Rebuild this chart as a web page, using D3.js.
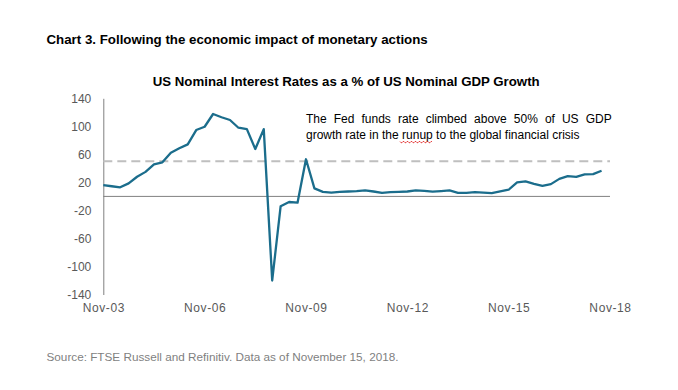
<!DOCTYPE html>
<html><head><meta charset="utf-8">
<script src="https://cdn.jsdelivr.net/npm/d3@7"></script>
<style>
html,body{margin:0;padding:0;background:#fff;}
svg{display:block;font-family:"Liberation Sans",Arial,sans-serif;}
</style></head>
<body><svg id="c" width="678" height="390"></svg>
<script>
// quarterly observations, Nov-03 onward
const values = [16,14.5,13,18.6,28,35,45.7,48.6,62.3,68.6,74.3,94.7,99.4,117.6,113,109,98,96,67.6,96,
 -120,-14,-8,-9,53,11.4,6.5,5.5,6.5,7,7.5,8.5,7,5,6,6.5,7,8.5,8,6.7,7.5,8.5,5,5,6,5.5,4.7,7,9.5,20,
 21.4,18,15,17.5,25,29,28,31.5,31.8,36.6];
const xTickLabels = ["Nov-03","Nov-06","Nov-09","Nov-12","Nov-15","Nov-18"];
const xTickIndex = [0,12,24,36,48,60];
const yTicks = [140,100,60,20,-20,-60,-100,-140];
const threshold = [50];
const title = "Chart 3. Following the economic impact of monetary actions";
const chartTitle = "US Nominal Interest Rates as a % of US Nominal GDP Growth";
const note1 = "The Fed funds rate climbed above 50% of US GDP";
const note2 = "growth rate in the runup to the global financial crisis";
const source = "Source: FTSE Russell and Refinitiv. Data as of November 15, 2018.";

const svg = d3.select("#c");
const x = d3.scaleLinear().domain([0,60]).range([103.3,610]);
const y = d3.scaleLinear().domain([-140,140]).range([294.5,98.3]);

function fit(sel, w){ const n = sel.node().getComputedTextLength(); if (Math.abs(n-w)>1) sel.attr("textLength",w).attr("lengthAdjust","spacingAndGlyphs"); return sel; }

fit(svg.append("text").attr("x",46.5).attr("y",44.3).attr("font-size",13.3).attr("font-weight","bold")
  .attr("fill","#000").text(title), 381);
fit(svg.append("text").attr("x",152.7).attr("y",86).attr("font-size",13.3)
  .attr("font-weight","bold").attr("fill","#000").text(chartTitle), 387);

// y axis line
const yAxis = d3.axisLeft(y).tickValues(yTicks).tickSize(0).tickPadding(12).tickFormat(d=>String(d));
const gy = svg.append("g").attr("transform","translate(103.3,0)").call(yAxis);
gy.select(".domain").attr("stroke","#808080").attr("stroke-width",1);
gy.selectAll("text").attr("font-size",12).attr("fill","#595959")
  .attr("font-family","Liberation Sans, Arial, sans-serif");

// zero line
svg.append("line").attr("x1",x(0)).attr("x2",x(60)).attr("y1",y(0)).attr("y2",y(0))
  .attr("stroke","#808080").attr("stroke-width",1);

// x tick labels
const xAxis = d3.axisBottom(x).tickValues(xTickIndex).tickSize(0).tickPadding(0)
  .tickFormat((d,i)=>xTickLabels[i]);
const gx = svg.append("g").attr("transform","translate(0,303.5)").call(xAxis);
gx.select(".domain").remove();
gx.selectAll("text").attr("font-size",12).attr("fill","#595959").attr("letter-spacing",0.6)
  .attr("font-family","Liberation Sans, Arial, sans-serif");

// dashed 50 line
svg.selectAll(".thr").data(threshold).enter().append("line")
  .attr("x1",x(0)).attr("x2",x(60)).attr("y1",d=>y(d)).attr("y2",d=>y(d))
  .attr("stroke","#bfbfbf").attr("stroke-width",2).attr("stroke-dasharray","9,5");

// series
const line = d3.line().x((d,i)=>x(i)).y(d=>y(d));
svg.append("path").datum(values).attr("d",line).attr("fill","none")
  .attr("stroke","#1b6d8c").attr("stroke-width",2.3).attr("stroke-linejoin","round");

// annotation, line 1 justified
const words = note1.split(" ");
const g1 = svg.append("g");
const left = 306, right = 611.7;
const ws = words.map(w => g1.append("text").attr("y",122.7).attr("font-size",12).attr("fill","#000").text(w));
const widths = ws.map(t => t.node().getComputedTextLength());
const gap = (right-left - d3.sum(widths))/(words.length-1);
let cx = left;
ws.forEach((t,i)=>{ t.attr("x",cx); cx += widths[i]+gap; });

const t2 = svg.append("text").attr("x",left).attr("y",139.3).attr("font-size",12).attr("fill","#000").text(note2);
const w2 = t2.node().getComputedTextLength();
if (w2 > 276) t2.attr("textLength",276).attr("lengthAdjust","spacingAndGlyphs");

// spell-check squiggle under "runup"
let sq = "M400,141.5";
for (let i=0;i<16;i++){ sq += ` l1,${i%2?-1.2:1.2}`; sq += ` l1,0`; }
svg.append("path").attr("d",sq).attr("fill","none").attr("stroke","#e02020").attr("stroke-width",0.8);

fit(svg.append("text").attr("x",46.5).attr("y",361).attr("font-size",11.5).attr("fill","#7f7f7f")
  .text(source), 352);
</script></body></html>
